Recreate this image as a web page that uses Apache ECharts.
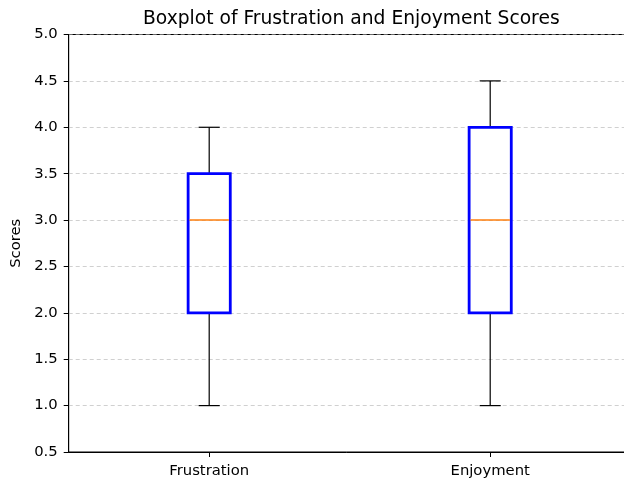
<!DOCTYPE html>
<html><head><meta charset="utf-8">
<script src="https://cdn.jsdelivr.net/npm/echarts@6/dist/echarts.min.js"></script>
<style>html,body{margin:0;padding:0;background:#fff}#c{width:624px;height:481px}</style>
</head><body><div id="c"></div>
<script>
var categories = ['Frustration', 'Enjoyment'];
var whiskerLow = [1.0, 1.0];
var q1 = [2.0, 2.0];
var median = [3.0, 3.0];
var q3 = [3.5, 4.0];
var whiskerHigh = [4.0, 4.5];
var yTicks = [0.5, 1.0, 1.5, 2.0, 2.5, 3.0, 3.5, 4.0, 4.5, 5.0];

var data = categories.map(function (c, i) {
  return [i, whiskerLow[i], q1[i], median[i], q3[i], whiskerHigh[i]];
});

var font = "'DejaVu Sans'";
var chart = echarts.init(document.getElementById('c'), null, {renderer: 'canvas'});

function renderItem(params, api) {
  var idx = api.value(0);
  var band = api.size([1, 0])[0];
  var bw = band * 0.15;
  var cw = bw / 2;
  var pLow = api.coord([idx, api.value(1)]);
  var pQ1 = api.coord([idx, api.value(2)]);
  var pMed = api.coord([idx, api.value(3)]);
  var pQ3 = api.coord([idx, api.value(4)]);
  var pHigh = api.coord([idx, api.value(5)]);
  var x = pQ1[0];
  var blk = {stroke: '#000', lineWidth: 1.2};
  return {
    type: 'group',
    children: [
      {type: 'line', shape: {x1: x, y1: pLow[1], x2: x, y2: pQ1[1]}, style: blk},
      {type: 'line', shape: {x1: x, y1: pQ3[1], x2: x, y2: pHigh[1]}, style: blk},
      {type: 'line', shape: {x1: x - cw / 2, y1: pLow[1], x2: x + cw / 2, y2: pLow[1]}, style: blk},
      {type: 'line', shape: {x1: x - cw / 2, y1: pHigh[1], x2: x + cw / 2, y2: pHigh[1]}, style: blk},
      {type: 'rect', shape: {x: x - bw / 2, y: pQ3[1], width: bw, height: pQ1[1] - pQ3[1]},
        style: {fill: 'none', stroke: '#0000ff', lineWidth: 2.8}},
      {type: 'line', shape: {x1: x - bw / 2 + 1.4, y1: pMed[1], x2: x + bw / 2 - 1.4, y2: pMed[1]},
        style: {stroke: '#ff7f0e', lineWidth: 1.4}}
    ]
  };
}

chart.setOption({
  animation: false,
  backgroundColor: '#fff',
  title: {
    text: 'Boxplot of Frustration and Enjoyment Scores',
    left: 138, top: 5,
    textStyle: {fontFamily: font, fontSize: 18.7, fontWeight: 'normal', color: '#000'}
  },
  grid: {left: 68.7, width: 562, top: 34.5, height: 417.5, outerBoundsMode: 'none',
    show: true, borderColor: '#000', borderWidth: 1, backgroundColor: 'transparent'},
  xAxis: {
    type: 'category', data: categories, boundaryGap: true,
    axisLine: {show: true, lineStyle: {color: '#000', width: 1}},
    axisTick: {show: true, alignWithLabel: true, length: 5, lineStyle: {color: '#000'}},
    axisLabel: {fontFamily: font, fontSize: 14.8, color: '#000', margin: 12},
    splitLine: {show: false}
  },
  yAxis: {
    type: 'value', min: 0.5, max: 5.0, interval: 0.5,
    name: 'Scores', nameLocation: 'middle', nameRotate: 90, nameGap: 43,
    nameTextStyle: {fontFamily: font, fontSize: 14.8, color: '#000'},
    axisLine: {show: true, lineStyle: {color: '#000', width: 1}},
    axisTick: {show: true, length: 5, lineStyle: {color: '#000'}},
    axisLabel: {fontFamily: font, fontSize: 14.8, color: '#000', margin: 11,
      formatter: function (v) { return v.toFixed(1); }},
    splitLine: {show: true, lineStyle: {color: 'rgba(176,176,176,0.6)', type: [4, 3], width: 1}}
  },
  series: [{
    type: 'custom',
    renderItem: renderItem,
    encode: {x: 0, y: [1, 2, 3, 4, 5]},
    data: data,
    clip: false
  }]
});
</script></body></html>
